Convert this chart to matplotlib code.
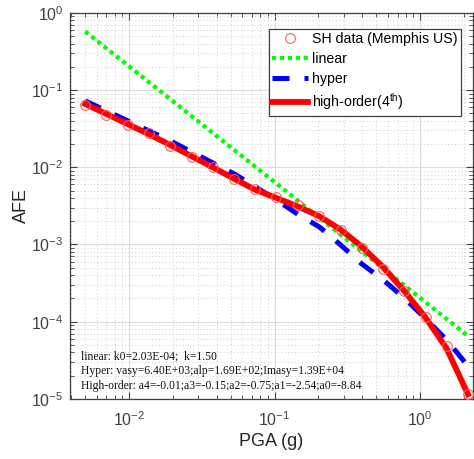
import numpy as np
import matplotlib
matplotlib.use("Agg")
import matplotlib.pyplot as plt

# fonts: Arial-like for axes, Times-like for the fit parameters
plt.rcParams['font.family'] = ['Liberation Sans', 'DejaVu Sans']
plt.rcParams['mathtext.fontset'] = 'custom'
plt.rcParams['mathtext.rm'] = 'Liberation Sans'
plt.rcParams['mathtext.it'] = 'Liberation Sans:italic'
plt.rcParams['mathtext.bf'] = 'Liberation Sans:bold'

# PGA levels (g)
pga = [0.005, 0.007, 0.0098, 0.0137, 0.0192, 0.0269, 0.0376, 0.0527, 0.0738,
       0.103, 0.145, 0.203, 0.284, 0.397, 0.556, 0.778, 1.09, 1.52, 2.13]

# SH data (Memphis US)
afe_data = [0.0644, 0.0477, 0.0354, 0.0279, 0.0189, 0.0136, 0.0101, 0.0071,
            0.0052, 0.00414, 0.00321, 0.00235, 0.00155, 0.000904, 0.000483,
            0.000251, 0.000115, 4.85e-5, 1.16e-5]

# fitted curves
afe_linear = [0.574, 0.3466, 0.2093, 0.1266, 0.0763, 0.0460, 0.02784, 0.01678,
              0.010125, 0.006141, 0.003677, 0.002219, 0.001341, 0.000812,
              0.000490, 0.000296, 0.0001784, 0.0001083, 6.53e-5]
afe_hyper = [0.0724, 0.0538, 0.0399, 0.0296, 0.0220, 0.0158, 0.0114, 0.00822,
             0.00557, 0.00378, 0.00245, 0.00169, 0.000988, 0.000561, 0.000348,
             0.000203, 0.000109, 5.81e-5, 2.67e-5]
afe_high = [0.066, 0.049, 0.0362, 0.0268, 0.0194, 0.0139, 0.0100, 0.0071,
            0.0051, 0.0040, 0.0031, 0.00232, 0.00156, 0.00094, 0.00051,
            0.00025, 0.000113, 4.5e-5, 1.15e-5]

legend_labels = ['SH data (Memphis US)', 'linear', 'hyper',
                 'high-order(4$^{\\rm th}$)']
fit_text = ['linear: k0=2.03E-04;  k=1.50',
            'Hyper: vasy=6.40E+03;alp=1.69E+02;Imasy=1.39E+04',
            'High-order: a4=-0.01;a3=-0.15;a2=-0.75;a1=-2.54;a0=-8.84']

fig = plt.figure(figsize=(4.74, 4.59), dpi=100)
ax = fig.add_axes([0.148, 0.131, 0.850, 0.841])

ax.plot(pga, afe_data, 'o', mfc='none', mec='#ff5c5c', ms=7, mew=0.8,
        label=legend_labels[0], zorder=5)
ax.plot(pga, afe_linear, color='#00ff00', lw=3, dashes=(1, 0.9),
        label=legend_labels[1], zorder=3)
ax.plot(pga, afe_hyper, color='#0000ff', lw=3.6, dashes=(3.4, 3.0),
        label=legend_labels[2], zorder=3)
ax.plot(pga, afe_high, color='#ff0000', lw=4.2, label=legend_labels[3],
        zorder=4)

ax.set_xscale('log')
ax.set_yscale('log')
ax.set_xlim(0.00394, 2.31)
ax.set_ylim(1e-5, 1)

# matlab style grid and ticks
ax.grid(True, which='major', color='#dcdcdc', lw=0.8, ls='-')
ax.grid(True, which='minor', color='#cfcfcf', lw=0.7, ls=(0, (1, 2.5)))
ax.set_axisbelow(True)
ax.tick_params(which='both', direction='in', top=True, right=True,
               colors='#404040', labelsize=11.5)
ax.tick_params(which='major', length=5, width=0.8)
ax.tick_params(which='minor', length=3, width=0.6)
ax.tick_params(axis='x', pad=8)
ax.tick_params(axis='y', pad=5)
for s in ax.spines.values():
    s.set_color('#404040')
    s.set_linewidth(0.9)

ax.set_xlabel('PGA (g)', fontsize=13, color='#262626', labelpad=3)
ax.set_ylabel('AFE', fontsize=13, color='#262626', labelpad=1)

leg = ax.legend(loc='upper right', bbox_to_anchor=(0.970, 0.9585),
                borderaxespad=0, fontsize=10.2, fancybox=False,
                edgecolor='#404040', framealpha=1, handlelength=2.5,
                labelspacing=0.4, handletextpad=0.3, borderpad=0.25)
leg.get_frame().set_linewidth(0.9)

ax.text(0.027, 0.127, '\n'.join(fit_text), transform=ax.transAxes,
        va='top', ha='left', fontsize=8.4, family=['Liberation Serif'],
        linespacing=1.35, color='#111111')

fig.savefig('out.png', dpi=100)
